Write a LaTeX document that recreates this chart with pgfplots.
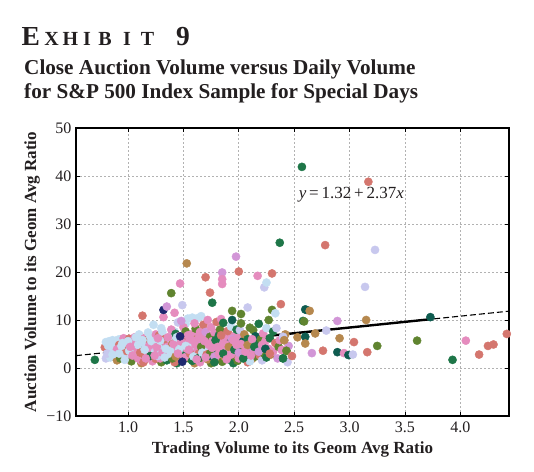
\documentclass[border=0pt]{standalone}
\usepackage{fontspec}
\setmainfont{Liberation Serif}
\usepackage{pgfplots}
\pgfplotsset{compat=1.18}
\definecolor{cg}{RGB}{30,118,72}
\definecolor{co}{RGB}{96,132,48}
\definecolor{ct}{RGB}{182,136,78}
\definecolor{cs}{RGB}{212,118,110}
\definecolor{cp}{RGB}{229,140,190}
\definecolor{cv}{RGB}{210,150,215}
\definecolor{cl}{RGB}{200,200,238}
\definecolor{cb}{RGB}{195,222,242}
\definecolor{cn}{RGB}{30,40,110}
\definecolor{ce}{RGB}{15,92,80}
\definecolor{titlec}{RGB}{35,31,32}
\begin{document}
\begin{tikzpicture}[x=1pt,y=1pt]
\path[use as bounding box] (-76,-55) rectangle (458,416);
\begin{axis}[
  at={(0,0)}, anchor=south west,
  scale only axis, width=433pt, height=288pt,
  xmin=0.53, xmax=4.44, ymin=-10, ymax=50,
  xtick={1,1.5,2,2.5,3,3.5,4},
  xticklabels={1.0,1.5,2.0,2.5,3.0,3.5,4.0},
  ytick={-10,0,10,20,30,40,50},
  yticklabels={−10,0,10,20,30,40,50},
  tick label style={font=\fontsize{16}{16}\selectfont, text=titlec},
  xticklabel style={yshift=-2pt},
  yticklabel style={xshift=-1pt},
  tick align=inside, major tick length=4pt,
  tick style={black, line width=0.8pt},
  axis line style={line width=1.4pt, black},
  grid=major,
  major grid style={gray!60, line width=0.7pt, dash pattern=on 1.8pt off 2.2pt},
  xlabel={\bfseries Trading Volume to its Geom Avg Ratio},
  ylabel={\bfseries Auction Volume to its Geom Avg Ratio},
  label style={font=\fontsize{17}{17}\selectfont, text=titlec},
  xlabel style={at={(axis description cs:0.5,-0.1146)}, anchor=center},
  ylabel style={at={(axis description cs:-0.1016,0.5)}, anchor=center},
  clip=true,
]
\addplot[scatter, only marks, mark size=4.1pt, scatter src=explicit symbolic,
  scatter/classes={
    g={mark=*,draw=cg,fill=cg},
    o={mark=*,draw=co,fill=co},
    t={mark=*,draw=ct,fill=ct},
    s={mark=*,draw=cs,fill=cs},
    p={mark=*,draw=cp,fill=cp},
    v={mark=*,draw=cv,fill=cv},
    l={mark=*,draw=cl,fill=cl},
    b={mark=*,draw=cb,fill=cb},
    n={mark=*,draw=cn,fill=cn},
    e={mark=*,draw=ce,fill=ce}}]
table[meta=c] {
x y c
0.88 5.0 b
0.93 6.0 b
0.96 4.0 b
1.02 5.2 b
1.06 3.8 b
1.10 6.0 b
1.16 5.4 b
1.20 3.4 b
1.26 6.6 b
1.32 4.8 b
1.38 5.4 b
1.42 7.6 b
1.52 9.2 b
1.66 10.8 b
1.40 6.8 p
1.46 4.6 p
1.53 5.2 p
1.60 6.6 p
1.66 5.0 p
1.72 6.8 p
1.80 6.2 p
1.87 7.4 p
1.92 6.8 p
1.98 6.6 p
1.12 1.0 t
1.30 1.2 o
1.44 1.0 g
1.60 1.0 t
1.75 1.0 o
1.95 1.0 g
2.08 1.2 s
0.70 1.7 g
0.79 4.3 s
0.80 2.0 l
0.80 5.4 b
0.83 5.6 b
0.86 5.8 b
0.82 4.6 b
0.85 3.8 b
0.88 2.5 p
0.84 2.2 b
0.90 1.6 t
0.87 4.4 b
0.89 3.2 b
0.81 3.0 l
0.91 5.9 b
0.92 4.8 s
0.93 2.0 o
0.95 3.5 p
0.96 6.2 p
0.97 5.0 b
0.98 2.6 b
0.99 4.2 b
1.00 1.8 p
1.01 6.1 s
1.02 3.0 b
1.03 3.75 n
1.04 5.5 b
1.05 2.2 t
1.00 4.8 p
0.98 3.6 s
1.03 1.4 o
1.05 4.3 b
1.06 6.4 p
1.07 3.2 b
1.08 5.8 b
1.09 2.0 p
1.10 4.5 b
1.11 6.5 s
1.12 1.5 p
1.13 10.9 s
1.13 3.8 p
1.14 5.2 b
1.15 2.7 t
1.10 7.0 b
1.12 4.0 o
1.08 3.9 p
1.15 6.2 p
1.14 1.2 s
1.16 4.6 b
1.17 3.0 p
1.18 5.9 s
1.19 2.2 o
1.20 6.6 b
1.21 4.0 p
1.22 1.4 p
1.23 9.0 b
1.23 5.0 t
1.24 3.3 b
1.25 7.0 p
1.18 7.4 b
1.20 2.5 g
1.22 4.5 l
1.25 1.9 s
1.26 5.6 b
1.27 3.7 p
1.28 6.8 s
1.29 2.0 p
1.30 4.6 o
1.31 7.5 b
1.32 10.6 p
1.33 3.0 t
1.34 5.2 p
1.35 1.6 g
1.28 4.2 b
1.30 8.3 b
1.33 6.0 s
1.27 2.5 l
1.36 4.4 p
1.37 6.3 b
1.38 2.8 p
1.39 8.0 p
1.40 5.0 t
1.41 3.5 b
1.42 1.2 s
1.43 7.1 g
1.44 4.0 p
1.45 9.5 l
1.45 5.8 p
1.40 2.0 o
1.37 3.0 b
1.46 6.6 p
1.47 2.5 p
1.48 4.8 b
1.50 8.5 p
1.50 3.2 g
1.51 6.0 s
1.53 4.0 p
1.54 10.3 b
1.55 2.0 o
1.52 7.6 o
1.55 5.5 p
1.48 9.8 v
1.56 3.5 p
1.57 7.0 p
1.58 10.5 b
1.58 1.5 g
1.59 5.0 g
1.60 2.6 p
1.61 8.2 o
1.62 4.2 p
1.62 6.0 t
1.63 10.4 b
1.64 3.0 s
1.65 7.5 p
1.65 1.2 p
1.60 9.3 p
1.57 4.6 b
1.64 5.4 v
1.66 2.2 o
1.67 6.2 p
1.68 9.0 s
1.68 4.0 g
1.69 3.0 p
1.70 7.5 v
1.71 5.0 p
1.72 1.8 t
1.72 10.0 p
1.73 3.8 p
1.74 6.5 o
1.75 2.5 e
1.75 8.5 p
1.70 4.6 b
1.76 5.6 p
1.77 3.2 g
1.78 7.4 p
1.79 1.6 p
1.80 9.6 s
1.80 4.5 t
1.81 2.6 p
1.82 6.8 g
1.83 8.0 o
1.83 3.6 e
1.84 5.2 p
1.85 1.3 o
1.84 10.2 p
1.86 9.4 g
1.86 4.2 p
1.87 2.4 t
1.88 6.4 p
1.89 3.0 v
1.90 7.7 s
1.90 5.0 e
1.91 1.8 g
1.92 4.0 p
1.93 8.6 b
1.94 10.0 e
1.94 6.0 v
1.95 2.6 o
1.92 3.4 p
1.96 5.2 p
1.97 3.0 t
1.98 8.0 g
1.99 1.5 o
2.00 4.5 g
2.01 7.9 l
2.01 6.2 p
2.02 9.3 o
2.03 2.8 p
2.04 5.6 e
2.05 3.6 s
2.05 7.0 t
2.00 2.0 p
2.06 4.6 p
2.07 2.2 g
2.08 6.0 g
2.09 3.4 s
2.10 8.4 o
2.11 5.0 p
2.12 1.9 t
2.13 7.9 o
2.13 4.0 v
2.14 3.0 p
2.15 6.6 e
2.15 2.4 o
2.10 1.4 b
2.16 5.0 g
2.17 3.6 p
2.18 9.2 g
2.19 2.6 s
2.20 6.0 o
2.20 4.2 t
2.21 1.6 l
2.22 7.2 p
2.23 3.0 o
2.24 5.6 p
2.25 2.2 g
2.25 8.3 b
2.27 10.0 o
2.27 4.0 p
2.28 6.2 g
2.29 2.8 t
2.31 7.6 g
2.31 3.4 p
2.33 5.2 s
2.34 8.3 l
2.35 2.0 v
2.36 4.4 o
2.37 5.8 p
2.39 3.75 p
2.40 2.0 g
2.40 6.5 l
2.41 5.8 t
2.43 3.6 o
2.44 1.2 l
2.45 4.6 v
2.42 7.0 t
0.90 3.9 p
0.94 4.6 b
0.97 1.7 b
1.01 3.6 b
1.04 2.6 p
1.06 5.0 p
1.09 4.8 b
1.11 3.2 s
1.13 5.8 b
1.16 2.0 p
1.19 4.6 p
1.21 5.6 b
1.24 2.6 p
1.26 4.4 p
1.29 5.7 b
1.31 3.2 p
1.34 4.0 b
1.36 6.4 p
1.38 3.6 b
1.41 5.0 p
1.43 2.4 t
1.44 6.4 b
1.46 3.8 b
1.48 5.5 p
1.51 2.2 p
1.52 4.6 b
1.54 6.8 p
1.56 3.0 s
1.58 5.8 p
1.59 2.4 b
1.61 4.8 p
1.63 2.0 g
1.64 6.4 p
1.66 4.4 o
1.67 3.2 b
1.69 5.6 p
1.71 2.8 s
1.73 4.8 p
1.74 3.0 o
1.76 4.2 p
1.78 2.4 v
1.79 5.8 g
1.81 4.4 p
1.82 3.0 p
1.84 6.8 s
1.86 3.0 g
1.88 5.0 p
1.89 1.8 p
1.91 4.4 t
1.93 2.8 p
1.95 5.8 p
1.96 3.8 g
1.98 4.8 p
2.00 3.2 v
2.02 5.0 p
2.04 2.0 g
2.06 3.4 p
2.08 4.8 t
2.11 2.6 p
2.12 6.0 p
2.14 4.4 g
2.18 3.4 v
2.21 4.8 p
2.24 4.0 e
2.28 3.0 s
0.86 2.8 b
0.92 3.0 b
0.95 5.2 b
1.00 5.6 b
1.07 6.4 b
1.02 4.4 p
1.15 3.8 b
1.27 6.2 p
1.33 2.2 b
1.45 3.0 p
1.55 3.8 p
1.62 1.8 p
1.70 2.2 p
1.78 1.2 g
1.47 6.6 n
1.49 1.3 n
1.32 12.1 n
1.35 12.8 v
1.39 15.6 o
1.42 11.5 p
1.47 17.6 p
1.49 13.1 l
1.53 21.8 t
1.70 18.9 s
1.74 15.7 s
1.76 13.6 g
1.85 19.9 v
1.85 18.5 p
1.85 17.5 p
1.94 11.9 o
1.975 23.2 v
2.00 20.1 s
2.02 11.25 o
2.08 12.6 l
2.17 19.2 p
2.23 16.8 l
2.25 17.8 b
2.30 19.7 s
2.30 12.1 o
2.33 11.4 b
2.37 26.1 g
2.38 13.3 s
2.40 6.5 l
2.41 5.8 t
2.39 3.75 p
2.43 3.6 o
2.40 2.0 g
2.48 2.5 s
2.53 6.4 t
2.57 41.9 g
2.58 9.8 g
2.59 9.7 o
2.60 12.2 e
2.61 12.1 e
2.64 11.9 t
2.60 6.5 e
2.60 5.1 t
2.66 3.1 v
2.69 7.2 t
2.76 3.6 s
2.78 25.6 s
2.79 7.8 l
2.89 9.8 v
2.89 3.3 e
2.91 6.2 t
2.95 3.1 p
2.99 2.7 e
3.03 2.8 l
3.04 5.4 s
3.14 16.9 l
3.15 10.0 t
3.16 3.3 s
3.17 38.8 s
3.23 24.6 l
3.25 4.6 o
3.61 5.7 o
3.73 10.6 e
3.93 1.7 g
4.05 5.7 p
4.17 2.8 s
4.25 4.6 s
4.30 4.9 s
4.42 7.1 s
};
\addplot[black, line width=1.1pt, dash pattern=on 6pt off 3pt] coordinates {(0.53,2.576) (4.44,11.843)};
\addplot[black, line width=2.4pt] coordinates {(0.78,3.169) (3.75,10.208)};
\node[anchor=west, font=\fontsize{17}{17}\selectfont, text=titlec] at (axis cs:2.51,36.0) {\textit{y}\,=\,1.32\,+\,2.37\textit{x}};
\end{axis}
% title
\begin{scope}[every node/.style={anchor=base, text=titlec, inner sep=0pt}]
\node[font=\fontsize{27.5}{28}\selectfont\bfseries] at (-45.2,370) {E};
\node[font=\fontsize{20}{20}\selectfont\bfseries] at (-24.3,370) {X};
\node[font=\fontsize{20}{20}\selectfont\bfseries] at (-5.5,370) {H};
\node[font=\fontsize{20}{20}\selectfont\bfseries] at (11,370) {I};
\node[font=\fontsize{20}{20}\selectfont\bfseries] at (29,370) {B};
\node[font=\fontsize{20}{20}\selectfont\bfseries] at (51,370) {I};
\node[font=\fontsize{20}{20}\selectfont\bfseries] at (71.5,370) {T};
\node[font=\fontsize{27.5}{28}\selectfont\bfseries] at (107,370) {9};
\end{scope}
\node[anchor=base west, inner sep=0pt, text=titlec, font=\fontsize{21.2}{21}\selectfont\bfseries] at (-52,341) {Close Auction Volume versus Daily Volume};
\node[anchor=base west, inner sep=0pt, text=titlec, font=\fontsize{21.2}{21}\selectfont\bfseries] at (-52,317) {for S\&P 500 Index Sample for Special Days};
\end{tikzpicture}
\end{document}
